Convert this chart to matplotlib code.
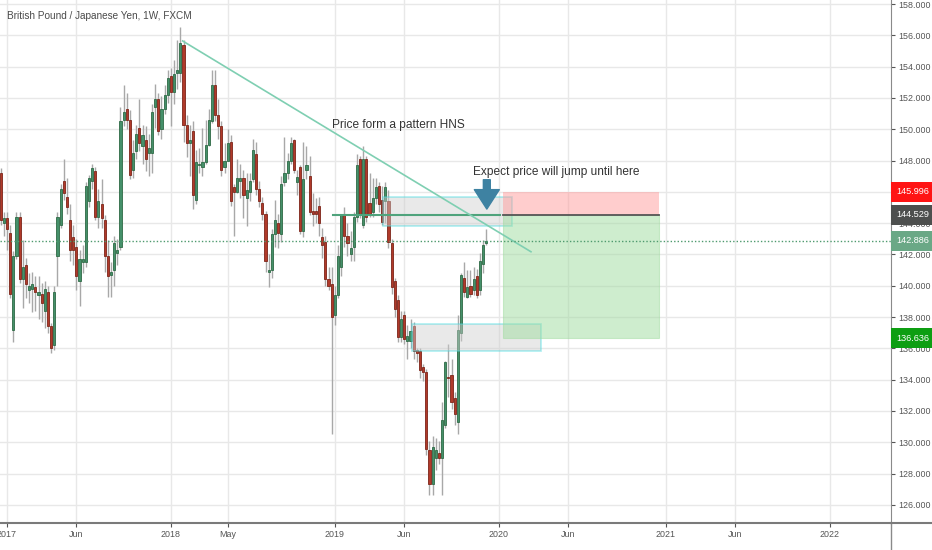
import numpy as np
import pandas as pd
import matplotlib
matplotlib.use("Agg")
import matplotlib.pyplot as plt
import matplotlib.transforms as mtransforms
from matplotlib.patches import Rectangle

plt.rcParams['font.family'] = ['Liberation Sans', 'DejaVu Sans']

# GBP/JPY weekly candles, first bar = week of 2016-12-19
first_bar = "2016-12-19"
opens = [147.2, 144.0, 144.3, 143.4, 137.2, 141.9, 144.4, 140.4, 141.3, 139.7,
         139.8, 139.9, 139.4, 139.5, 138.4, 139.6, 137.4, 136.2, 141.9, 143.9,
         146.7, 145.7, 144.2, 143.1, 142.5, 140.3, 141.5, 141.5, 145.4, 146.7,
         147.3, 144.4, 145.2, 144.2, 141.9, 140.7, 141.0, 142.1, 142.5, 150.6,
         151.3, 150.6, 147.4, 148.6, 150.1, 148.9, 149.3, 148.5, 148.5, 151.4,
         151.9, 150.0, 151.3, 152.2, 153.4, 152.4, 153.6, 153.6, 155.4, 150.3,
         149.1, 149.9, 145.5, 147.7, 147.6, 147.9, 149.0, 150.5, 152.8, 150.9,
         150.2, 147.6, 148.0, 149.2, 146.3, 146.0, 146.7, 146.9, 145.6, 146.0,
         146.8, 148.4, 146.2, 145.3, 144.6, 140.9, 141.0, 143.3, 144.0, 143.3,
         146.6, 147.2, 148.0, 149.3, 146.65, 147.6, 143.5, 147.4, 147.0, 144.8,
         144.8, 145.1, 143.1, 142.8, 140.4, 140.1, 138.1, 139.4, 141.2, 144.5,
         143.2, 142.0, 142.5, 144.4, 148.1, 143.9, 148.1, 145.3, 144.7, 145.6,
         146.4, 145.5, 145.4, 145.4, 142.7, 140.3, 139.1, 136.7, 138.1, 136.5,
         136.5, 137.4, 135.9, 135.8, 134.8, 134.5, 129.5, 127.3, 129.0, 129.3,
         129.0, 131.1, 134.2, 134.3, 132.8, 131.3, 137.0, 140.5, 139.3, 140.0,
         139.7, 140.6, 139.7, 141.4, 142.7]
highs = [147.5, 144.7, 144.7, 143.9, 142.2, 144.7, 144.7, 142.9, 141.8, 140.8,
         140.9, 140.6, 140.6, 140.2, 140.3, 140.0, 137.6, 140.0, 144.7, 146.5,
         148.1, 146.9, 145.2, 143.9, 143.0, 142.3, 142.6, 146.6, 147.1, 147.8,
         147.6, 146.2, 146.8, 144.5, 142.9, 141.5, 143.2, 143.0, 151.4, 152.8,
         152.3, 151.2, 149.3, 150.3, 151.9, 150.3, 150.2, 149.7, 151.6, 152.9,
         152.3, 152.1, 152.8, 153.8, 153.9, 154.4, 155.7, 156.5, 155.7, 150.9,
         150.3, 150.5, 148.7, 148.8, 150.1, 150.6, 151.3, 153.8, 153.8, 151.9,
         150.5, 149.1, 150.0, 149.6, 146.5, 148.1, 147.8, 147.4, 147.2, 147.2,
         149.4, 149.2, 146.7, 145.7, 144.8, 142.0, 143.6, 145.5, 144.6, 147.0,
         149.5, 148.5, 149.5, 149.4, 147.4, 147.7, 149.2, 148.9, 148.3, 145.9,
         145.6, 145.7, 143.7, 143.2, 141.2, 141.2, 140.0, 142.6, 144.6, 145.0,
         144.0, 143.5, 144.7, 148.4, 148.3, 148.9, 148.3, 147.2, 146.9, 146.9,
         146.6, 146.4, 146.6, 146.1, 143.0, 140.5, 139.4, 138.4, 138.4, 137.5,
         137.9, 137.7, 136.0, 136.0, 135.0, 134.7, 130.1, 130.4, 130.3, 130.1,
         132.6, 135.2, 136.3, 135.3, 133.2, 138.1, 140.8, 141.5, 141.0, 141.0,
         141.2, 141.1, 142.1, 142.9, 143.6]
lows = [143.9, 143.2, 142.3, 139.2, 136.4, 141.7, 140.2, 138.6, 139.2, 138.9,
        138.3, 138.4, 137.9, 137.7, 137.3, 137.0, 135.7, 135.9, 140.0, 143.7,
        145.5, 144.6, 141.6, 141.3, 139.7, 138.7, 140.8, 141.2, 145.0, 146.2,
        144.2, 143.7, 143.7, 140.9, 139.3, 139.3, 140.0, 141.3, 142.3, 150.2,
        150.0, 146.8, 146.9, 148.1, 148.6, 147.8, 147.3, 147.0, 147.2, 150.1,
        149.6, 149.4, 151.0, 151.7, 150.2, 151.6, 152.6, 153.0, 149.2, 148.2,
        147.0, 144.9, 145.2, 147.2, 147.0, 147.8, 148.9, 150.4, 150.5, 149.4,
        147.0, 147.2, 148.0, 145.1, 143.2, 145.9, 145.6, 144.3, 143.8, 145.4,
        146.6, 145.8, 145.0, 144.2, 140.9, 139.9, 140.5, 142.5, 142.4, 142.8,
        146.4, 146.8, 147.8, 147.2, 145.8, 143.3, 143.1, 146.8, 144.5, 143.8,
        144.0, 143.2, 141.8, 140.0, 139.7, 130.5, 137.5, 139.2, 140.6, 142.5,
        141.9, 141.6, 141.6, 144.1, 144.3, 143.7, 144.1, 144.4, 144.4, 145.2,
        144.7, 143.9, 144.0, 142.4, 139.5, 138.0, 136.4, 136.4, 136.3, 135.3,
        136.0, 135.3, 135.1, 134.1, 133.9, 129.2, 126.6, 126.6, 128.2, 128.6,
        126.6, 130.9, 132.9, 132.1, 131.1, 130.5, 136.5, 139.3, 139.2, 139.3,
        139.4, 139.2, 139.4, 140.8, 142.6]
closes = [144.2, 144.3, 143.6, 139.5, 141.9, 144.4, 140.4, 141.2, 140.1, 140.0,
          140.1, 139.6, 139.6, 138.9, 139.8, 137.4, 136.0, 139.6, 144.4, 146.2,
          145.9, 145.0, 142.3, 142.3, 140.6, 141.7, 141.7, 146.4, 146.9, 147.5,
          144.4, 145.4, 144.3, 141.9, 140.6, 140.9, 142.7, 142.3, 150.5, 151.1,
          150.6, 147.1, 148.5, 149.7, 149.1, 149.6, 148.1, 148.8, 151.1, 151.9,
          149.9, 151.3, 152.2, 153.3, 152.4, 153.5, 153.8, 155.5, 150.3, 149.1,
          149.3, 145.8, 147.9, 147.8, 147.9, 149.0, 150.6, 152.8, 150.9, 150.2,
          147.4, 148.0, 149.1, 145.4, 146.0, 146.9, 146.9, 145.8, 146.1, 146.7,
          148.7, 146.2, 145.4, 144.6, 141.6, 141.0, 143.3, 144.2, 143.4, 146.5,
          147.2, 148.0, 149.1, 147.4, 146.97, 143.5, 146.8, 147.7, 144.7, 144.6,
          144.6, 144.0, 142.6, 140.4, 140.0, 138.0, 139.4, 141.9, 144.5, 143.2,
          142.7, 142.4, 144.4, 147.7, 144.5, 148.1, 144.4, 144.6, 145.6, 146.3,
          145.2, 144.1, 146.3, 142.8, 139.9, 138.5, 136.7, 137.9, 136.6, 136.8,
          137.1, 135.8, 135.7, 134.6, 134.5, 129.6, 127.3, 129.7, 129.5, 129.0,
          131.4, 135.1, 134.1, 132.6, 131.8, 137.2, 140.7, 139.6, 139.9, 139.5,
          140.4, 139.4, 141.6, 142.6, 142.886]

tick_dates = ["2017-01-02", "2017-06-05", "2018-01-01", "2018-05-07", "2018-12-31",
              "2019-06-03", "2019-12-30", "2020-06-01", "2021-01-04", "2021-06-07",
              "2022-01-03"]
tick_labels = ["2017", "Jun", "2018", "May", "2019", "Jun", "2020", "Jun", "2021", "Jun", "2022"]

stop_price = 145.996
entry_price = 144.529
last_price = 142.886
target_price = 136.636

o = np.array(opens)
h = np.array(highs)
l = np.array(lows)
c = np.array(closes)
n = np.arange(len(c))

# bar index of each tick date
tick_pos = (pd.to_datetime(tick_dates) - pd.Timestamp(first_bar)).days / 7

fig = plt.figure(figsize=(9.32, 5.5), dpi=100)
ax = fig.add_axes([0, 27 / 550, 891 / 932, 523 / 550])

# candles
up = c >= o
body_col = np.where(up, '#45906a', '#b03a2a')
edge_col = np.where(up, '#2e6a45', '#7d2519')
ax.vlines(n, l, h, color='#a8a8a8', lw=1, zorder=2)
ax.bar(n, np.maximum(np.abs(c - o), 0.07), bottom=np.minimum(o, c), width=0.68,
       color=body_col, edgecolor=edge_col, linewidth=0.6, zorder=3)

# drawings
ax.add_patch(Rectangle((121.4, 143.8), 40.9, 1.9, fc='#cfcfcf', alpha=0.45,
                       ec='#45dbe0', lw=1.2, zorder=4))
ax.add_patch(Rectangle((130.4, 135.85), 40.9, 1.7, fc='#cfcfcf', alpha=0.45,
                       ec='#45dbe0', lw=1.2, zorder=4))
ax.add_patch(Rectangle((159.2, entry_price), 49.7, stop_price - entry_price,
                       fc='#ff9c9c', alpha=0.5, ec='none', zorder=4))
ax.add_patch(Rectangle((159.2, target_price), 49.7, entry_price - target_price,
                       fc='#9fdc9f', alpha=0.5, ec='#9fdc9f', lw=0.8, zorder=4))
ax.plot([159.2, 208.9], [entry_price, entry_price], color='#555555', lw=1.3, zorder=5)
ax.plot([105.4, 158.4], [entry_price, entry_price], color='#4fa37c', lw=1.5, zorder=5)
ax.plot([57.7, 168.2], [155.64, 142.17], color='#7fcfb2', lw=1.2, zorder=5)
ax.axhline(last_price, color='#4e9a6e', lw=1, ls=(0, (1, 1.5)), zorder=5)

ax.annotate('', xy=(154.2, 144.72), xytext=(154.2, 146.95),
            arrowprops=dict(arrowstyle='simple,head_width=18,head_length=14,tail_width=5',
                            mutation_scale=1, fc='#3e82a2', ec='#3e82a2'), zorder=6)

ax.text(126.3, 150.27, 'Price form a pattern HNS', ha='center', va='center',
        fontsize=8.6, color='#333333', zorder=6)
ax.text(176.1, 147.27, 'Expect price will jump until here', ha='center', va='center',
        fontsize=8.6, color='#333333', zorder=6)
fig.text(7 / 932, 1 - 16 / 550, 'British Pound / Japanese Yen, 1W, FXCM', ha='left',
         va='center', fontsize=7.2, color='#4a4a4a')

# axes look
ax.set_xlim(-0.22, 282.4)
ax.set_ylim(124.84, 158.256)
ax.set_yticks(np.arange(126, 159, 2))
ax.yaxis.set_major_formatter(plt.FormatStrFormatter('%.3f'))
ax.yaxis.tick_right()
ax.set_xticks(tick_pos)
ax.set_xticklabels(tick_labels)
ax.tick_params(axis='both', labelsize=6.4, colors='#555555', length=3, width=0.8, pad=2)
ax.grid(True, color='#e8e8e8', lw=1)
ax.set_axisbelow(True)
for s in ['top', 'left']:
    ax.spines[s].set_visible(False)
ax.spines['right'].set_color('#8a8a8a')
ax.spines['bottom'].set_color('#7a7a7a')
ax.spines['bottom'].set_linewidth(1.5)
fig.add_artist(plt.Line2D([891 / 932, 891 / 932], [0, 27 / 550], color='#8a8a8a', lw=1))
fig.add_artist(plt.Line2D([891 / 932, 1], [27 / 550, 27 / 550], color='#7a7a7a', lw=1.5))

# price tags on the scale
trans = mtransforms.blended_transform_factory(ax.transAxes, ax.transData)
trans = trans + mtransforms.ScaledTranslation(5 / 100, 0, fig.dpi_scale_trans)
for price, col in [(stop_price, '#ff1414'), (entry_price, '#4d4f4e'),
                   (last_price, '#6aa886'), (target_price, '#0d9e12')]:
    ax.text(1.0, price, f'{price:.3f}', transform=trans, ha='left', va='center',
            fontsize=6.6, color='white', clip_on=False, zorder=10,
            bbox=dict(boxstyle='square,pad=0.6', fc=col, ec='none'))

fig.savefig('out.png', dpi=100)
